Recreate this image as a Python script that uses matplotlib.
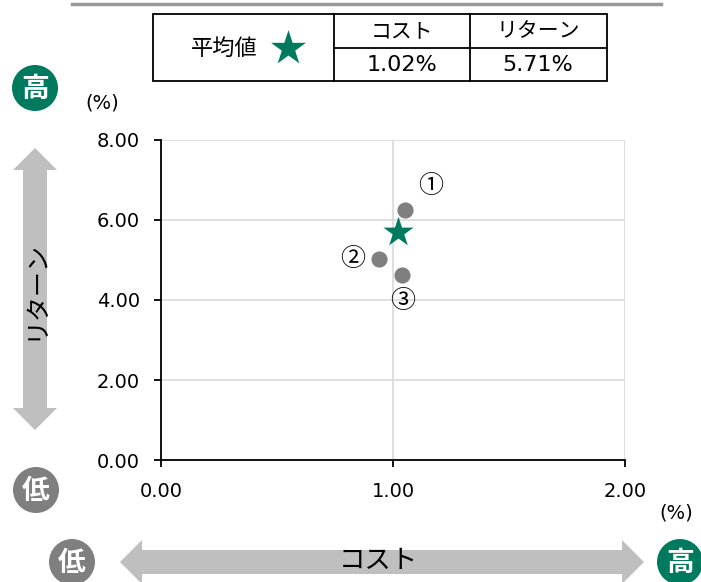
"""
Cost vs. return scatter with average marker and summary table.
"""

import matplotlib
matplotlib.use("Agg")
import matplotlib.pyplot as plt
from matplotlib.patches import Circle, FancyArrow, Rectangle

plt.rcParams["font.family"] = ["DejaVu Sans", "Noto Sans CJK JP"]
JP = ["Noto Sans CJK JP", "DejaVu Sans"]

GREEN = "#007a5e"
GRAY = "#7f7f7f"
ARROW = "#bfbfbf"

# data
fund_labels = ["①", "②", "③"]
fund_cost = [1.05, 0.94, 1.04]
fund_return = [6.25, 5.03, 4.62]
label_offsets = [(10, 8), (-10, 0), (0, -9)]  # points, from each marker
avg_cost = 1.02
avg_return = 5.71
x_ticks = [0.0, 1.0, 2.0]
y_ticks = [0.0, 2.0, 4.0, 6.0, 8.0]

W, H = 701, 582


def double_arrow(ax, x0, y0, x1, y1):
    # two arrows from the middle out, so the heads don't get covered
    mx, my = (x0 + x1) / 2, (y0 + y1) / 2
    for tx, ty in [(x0, y0), (x1, y1)]:
        ax.add_patch(FancyArrow(mx, my, tx - mx, ty - my, width=24,
                                head_width=44, head_length=22, color=ARROW,
                                linewidth=0, length_includes_head=True))


def main() -> None:
    fig = plt.figure(figsize=(W / 100, H / 100), dpi=100)

    # main scatter axes
    ax = fig.add_axes([161 / W, 1 - 460 / H, 464 / W, 320 / H])
    ax.set_xlim(0, 2)
    ax.set_ylim(0, 8)
    ax.set_xticks(x_ticks)
    ax.set_yticks(y_ticks)
    ax.set_xticklabels([f"{v:.2f}" for v in x_ticks])
    ax.set_yticklabels([f"{v:.2f}" for v in y_ticks])
    ax.grid(True, color="#d9d9d9", linewidth=1.2)
    ax.set_axisbelow(True)
    for s in ["top", "right"]:
        ax.spines[s].set_visible(False)
    for s in ["left", "bottom"]:
        ax.spines[s].set_linewidth(1.3)
    ax.tick_params(axis="both", direction="out", length=5, width=1.3,
                   labelsize=14)
    ax.tick_params(axis="y", pad=10)
    ax.tick_params(axis="x", pad=11)

    ax.scatter(fund_cost, fund_return, s=135, color=GRAY, zorder=3,
               linewidths=0)
    ax.scatter([avg_cost], [avg_return], marker="*", s=520, color=GREEN,
               zorder=4, linewidths=0)
    for lab, xv, yv, off in zip(fund_labels, fund_cost, fund_return,
                                label_offsets):
        ha = "left" if off[0] > 0 else ("right" if off[0] < 0 else "center")
        va = "bottom" if off[1] > 0 else ("top" if off[1] < 0 else "center")
        ax.annotate(lab, (xv, yv), xytext=off, textcoords="offset points",
                    ha=ha, va=va, fontsize=18, family=JP)

    # overlay in pixel coordinates for decorations
    ov = fig.add_axes([0, 0, 1, 1], facecolor="none")
    ov.set_xlim(0, W)
    ov.set_ylim(H, 0)
    ov.axis("off")

    ov.plot([72, 661], [4, 4], color="#999999", linewidth=2.5)

    # summary table
    ov.add_patch(Rectangle((153, 14), 454, 67, fill=False,
                           edgecolor="black", linewidth=1.3))
    ov.plot([334, 334], [14, 81], color="black", linewidth=1.3)
    ov.plot([470, 470], [14, 81], color="black", linewidth=1.3)
    ov.plot([334, 607], [48, 48], color="black", linewidth=1.3)
    ov.text(224, 48, "平均値", ha="center", va="center", fontsize=16,
            family=JP)
    ov.scatter([288], [48], marker="*", s=700, color=GREEN, linewidths=0)
    ov.text(402, 31, "コスト", ha="center", va="center", fontsize=15,
            family=JP)
    ov.text(538, 31, "リターン", ha="center", va="center", fontsize=15,
            family=JP)
    ov.text(402, 65, f"{avg_cost:.2f}%", ha="center", va="center",
            fontsize=16)
    ov.text(538, 65, f"{avg_return:.2f}%", ha="center", va="center",
            fontsize=16)

    # unit labels
    ov.text(102, 103, "(%)", ha="center", va="center", fontsize=14)
    ov.text(676, 513, "(%)", ha="center", va="center", fontsize=14)

    # arrows
    double_arrow(ov, 35, 148, 35, 430)
    double_arrow(ov, 120, 562, 644, 562)
    ov.text(35, 290, "リターン", rotation=90, ha="center", va="center",
            fontsize=18, family=JP)
    ov.text(378, 560, "コスト", ha="center", va="center", fontsize=19,
            family=JP)

    # high / low badges
    for cx, cy, txt, col in [(35, 88, "高", GREEN), (36, 490, "低", GRAY),
                             (72, 562, "低", GRAY), (680, 562, "高", GREEN)]:
        ov.add_patch(Circle((cx, cy), 23, color=col, linewidth=0))
        ov.text(cx, cy + 1, txt, ha="center", va="center", fontsize=20,
                color="white", fontweight="bold", family=JP)

    fig.savefig("out.png", dpi=100)
    plt.close(fig)


if __name__ == "__main__":
    main()
